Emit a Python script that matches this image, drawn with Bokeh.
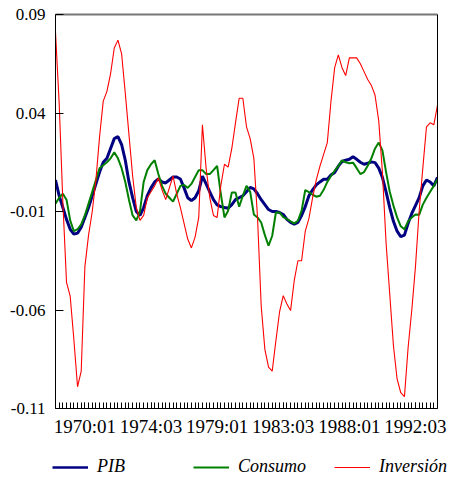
from bokeh.plotting import figure
from bokeh.layouts import column
from bokeh.models import (FixedTicker, Legend, LegendItem, LinearAxis, Range1d,
                          ColumnDataSource, PrintfTickFormatter)
from bokeh.embed import file_html
from bokeh.resources import INLINE

START_YEAR = 1968  # first observation: 1968:01 (quarterly)

pib = [
    0.006, -0.002, -0.008, -0.014, -0.019, -0.0215, -0.021, -0.018, -0.013, -0.008,
    -0.002, 0.004, 0.010, 0.015, 0.017, 0.022, 0.027, 0.028, 0.024, 0.016,
    0.005, -0.003, -0.010, -0.012, -0.008, -0.002, 0.002, 0.005, 0.0065, 0.005,
    0.0045, 0.006, 0.0075, 0.0075, 0.0065, 0.002, -0.003, -0.0045, -0.003, 0.0005,
    0.008, 0.004, 0.000, -0.004, -0.0066, -0.0075, -0.008, -0.0083, -0.0065, -0.004,
    -0.003, -0.002, 0.000, 0.0022, 0.0015, -0.001, -0.004, -0.0065, -0.009, -0.010,
    -0.010, -0.0105, -0.0115, -0.014, -0.0155, -0.0164, -0.0155, -0.012, -0.0075, -0.002,
    0.001, 0.0035, 0.005, 0.0064, 0.0064, 0.0085, 0.0098, 0.013, 0.0154, 0.016,
    0.0165, 0.0178, 0.0165, 0.015, 0.014, 0.0145, 0.0152, 0.0148, 0.012, 0.0073,
    0.000, -0.008, -0.015, -0.020, -0.0228, -0.022, -0.016, -0.011, -0.007, -0.003,
    0.003, 0.006, 0.005, 0.003, 0.0073,
]

consumo = [
    -0.006, -0.003, -0.001, -0.004, -0.0145, -0.020, -0.019, -0.0165, -0.012, -0.006,
    0.000, 0.006, 0.012, 0.0135, 0.015, 0.017, 0.020, 0.017, 0.012, 0.005,
    -0.004, -0.012, -0.0145, -0.010, 0.005, 0.011, 0.014, 0.016, 0.009, 0.003,
    -0.001, -0.003, -0.005, -0.001, 0.003, 0.0035, 0.002, 0.004, 0.0075, 0.011,
    0.011, 0.009, 0.009, 0.011, 0.0132, -0.001, -0.013, -0.0096, -0.0003, -0.0003,
    -0.0076, -0.002, 0.003, 0.000, -0.0115, -0.013, -0.0156, -0.022, -0.0274, -0.0223,
    -0.0105, -0.0105, -0.0128, -0.0138, -0.015, -0.016, -0.0147, -0.0096, 0.0009, -0.0002,
    -0.0015, -0.0025, -0.002, 0.001, 0.005, 0.008, 0.0107, 0.013, 0.016, 0.015,
    0.0145, 0.0148, 0.012, 0.009, 0.010, 0.0132, 0.017, 0.022, 0.025, 0.021,
    0.010, 0.000, -0.007, -0.013, -0.0175, -0.019, -0.015, -0.013, -0.0115, -0.0117,
    -0.0065, -0.003, 0.000, 0.003, 0.0064,
]

inversion = [
    0.081, 0.045, -0.005, -0.046, -0.053, -0.075, -0.099, -0.091, -0.038, -0.022,
    -0.010, 0.006, 0.028, 0.046, 0.051, 0.060, 0.073, 0.077, 0.070, 0.050,
    0.029, 0.008, -0.008, -0.0145, -0.012, -0.003, 0.000, 0.003, 0.007, 0.001,
    -0.004, 0.002, 0.008, -0.001, -0.008, -0.016, -0.024, -0.0285, -0.023, -0.013,
    0.034, 0.012, -0.003, -0.012, -0.013, 0.003, 0.014, 0.0125, 0.022, 0.035,
    0.0475, 0.0475, 0.033, 0.027, 0.017, -0.013, -0.058, -0.080, -0.089, -0.091,
    -0.0756, -0.061, -0.0527, -0.057, -0.0603, -0.045, -0.035, -0.035, -0.020, -0.0135,
    -0.003, 0.006, 0.013, 0.019, 0.025, 0.046, 0.063, 0.0695, 0.063, 0.059,
    0.068, 0.068, 0.068, 0.065, 0.061, 0.057, 0.054, 0.049, 0.036, 0.010,
    -0.026, -0.052, -0.078, -0.095, -0.102, -0.104, -0.079, -0.060, -0.038, -0.010,
    0.012, 0.033, 0.035, 0.034, 0.044,
]

x_tick_labels = ["1970:01", "1974:03", "1979:01", "1983:03", "1988:01", "1992:03"]
y_ticks = [0.09, 0.04, -0.01, -0.06, -0.11]
series_names = ["PIB", "Consumo", "Inversión"]
series_cols = ["pib", "consumo", "inversion"]
series_colors = ["#000080", "#008000", "#ff0000"]
series_widths = [3, 2, 1.1]

n = len(pib)
assert len(consumo) == n and len(inversion) == n
idx = list(range(n))


def q_index(label):
    y, q = label.split(":")
    return (int(y) - START_YEAR) * 4 + int(q) - 1


x_tick_pos = [q_index(s) for s in x_tick_labels]

src = ColumnDataSource(dict(x=idx, pib=pib, consumo=consumo, inversion=inversion))

FONT = "Liberation Serif"

# ---------------- main chart ----------------
p = figure(width=450, height=440, output_backend="svg", toolbar_location=None,
           x_range=Range1d(0, n - 1), y_range=Range1d(min(y_ticks), max(y_ticks)),
           min_border_left=55, min_border_right=13, min_border_top=14, min_border_bottom=32,
           x_axis_location=None, y_axis_location=None)
p.grid.visible = False
p.outline_line_color = None
p.background_fill_color = "white"
p.border_fill_color = "white"

for col, color, w in zip(series_cols, series_colors, series_widths):
    p.line("x", col, source=src, line_color=color, line_width=w)

# bottom axis
xa = LinearAxis(ticker=FixedTicker(ticks=x_tick_pos, minor_ticks=idx))
xa.major_label_overrides = {pos: lab for pos, lab in zip(x_tick_pos, x_tick_labels)}
xa.axis_line_color = "black"
xa.major_tick_in = 6
xa.major_tick_out = 0
xa.minor_tick_in = 6
xa.minor_tick_out = 0
xa.major_tick_line_color = "black"
xa.minor_tick_line_color = "black"
xa.major_label_text_font = FONT
xa.major_label_text_font_size = "19px"
xa.major_label_text_color = "black"
xa.major_label_standoff = 7
p.add_layout(xa, "below")

# left axis
ya = LinearAxis(ticker=FixedTicker(ticks=y_ticks, minor_ticks=[]),
                formatter=PrintfTickFormatter(format="%.2f"))
ya.axis_line_color = "black"
ya.major_tick_in = 8
ya.major_tick_out = 0
ya.major_tick_line_color = "black"
ya.major_label_text_font = FONT
ya.major_label_text_font_size = "17px"
ya.major_label_text_color = "black"
ya.major_label_standoff = 10
p.add_layout(ya, "left")

# top (grey) and right (black) frame lines
for loc, color, w in (("above", "#777777", 2), ("right", "black", 1)):
    ax = LinearAxis(ticker=FixedTicker(ticks=[]))
    ax.axis_line_color = color
    ax.axis_line_width = w
    ax.major_tick_line_color = None
    ax.minor_tick_line_color = None
    ax.major_label_text_font_size = "0px"
    ax.major_label_standoff = 0
    p.add_layout(ax, loc)

# ---------------- legend strip ----------------
lg = figure(width=450, height=43, output_backend="svg", toolbar_location=None,
            x_range=Range1d(-1000, -999), y_range=Range1d(0, 1),
            min_border_left=0, min_border_right=0, min_border_top=0, min_border_bottom=0,
            x_axis_location=None, y_axis_location=None)
lg.frame_align = False
lg.grid.visible = False
lg.outline_line_color = None
lg.background_fill_color = "white"
lg.border_fill_color = "white"

items = []
for name, col, color, w in zip(series_names, series_cols, series_colors, series_widths):
    r = lg.line("x", col, source=src, line_color=color, line_width=min(w, 2.5))
    items.append(LegendItem(label=name, renderers=[r]))

legend = Legend(items=items, orientation="horizontal", location=(52, 6))
legend.glyph_width = 36
legend.glyph_height = 20
legend.label_standoff = 9
legend.label_width = 96
legend.spacing = 0
legend.padding = 0
legend.margin = 0
legend.border_line_color = None
legend.background_fill_alpha = 0
legend.label_text_font = FONT
legend.label_text_font_style = "italic"
legend.label_text_font_size = "18px"
legend.label_text_color = "black"
lg.add_layout(legend, "center")

layout = column(p, lg, spacing=0)

open("out.html", "w").write(file_html(layout, INLINE))
